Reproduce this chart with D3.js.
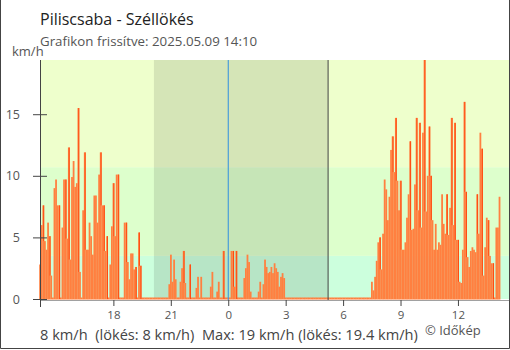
<!DOCTYPE html>
<html>
<head>
<meta charset="utf-8">
<script src="https://cdn.jsdelivr.net/npm/d3@7"></script>
<style>
  html, body { margin: 0; padding: 0; background: #fff; }
  svg { display: block; font-family: "Open Sans", "Noto Sans", sans-serif; }
</style>
</head>
<body>
<svg id="chart" width="510" height="350"></svg>
<script>
// Station and labels
const station = "Piliscsaba";
const titleText = station + " - Széllökés";
const updatedText = "Grafikon frissítve: 2025.05.09 14:10";
const unitLabel = "km/h";
const summaryText = "8 km/h  (lökés: 8 km/h)  Max: 19 km/h (lökés: 19.4 km/h)";
const creditText = "© Időkép";

// Time window (local time) and 5-minute gust readings from 2025-05-08 14:10
const windowStart = new Date(2025, 4, 8, 14, 10);
const windowEnd = new Date(2025, 4, 9, 14, 40);
const stepMinutes = 5;
const gust = [
  2.8, 6.0, 7.6, 4.7, 4.0, 6.2, 5.1, 1.9, 0, 9.0,
  9.7, 7.6, 7.6, 0, 5.8, 9.7, 9.7, 4.9, 12.3, 3.2,
  9.9, 11.2, 9.1, 9.4, 15.5, 2.2, 0, 7.2, 11.9, 4.0,
  4.0, 6.2, 5.1, 3.6, 8.4, 8.4, 6.2, 10.1, 11.9, 7.6,
  7.6, 3.9, 5.1, 0, 2.8, 5.9, 9.4, 5.1, 10.1, 10.1,
  0, 0, 0, 6.2, 6.2, 3.0, 1.6, 3.7, 3.7, 2.4,
  2.6, 0, 5.4, 2.7, 0, 0, 0, 0, 0, 0,
  0, 0, 0, 0, 0, 0, 0, 0, 0, 0,
  0, 1.2, 3.6, 1.4, 3.2, 1.6, 0, 0, 1.4, 2.5,
  3.9, 1.3, 0, 0, 2.8, 0, 0, 0, 0.9, 1.8,
  0, 1.8, 0, 0, 0, 0, 0, 1.0, 2.2, 0,
  0, 0.6, 1.4, 0, 0, 3.9, 0, 0, 0, 0,
  3.9, 3.9, 1.0, 3.9, 0, 0, 0, 0, 1.7, 2.5,
  3.6, 3.0, 0.6, 0, 0, 0, 0, 0.6, 1.4, 0,
  1.2, 3.2, 2.6, 2.1, 2.2, 2.6, 2.1, 2.9, 2.5, 2.2,
  1.0, 1.8, 2.1, 1.7, 0, 0, 0, 0, 0, 0,
  0, 0, 0, 0, 0, 0, 0, 0, 0, 0,
  0, 0, 0, 0, 0, 0, 0, 0, 0, 0,
  0, 0, 0, 0, 0, 0, 0, 0, 0, 0,
  0, 0, 0, 0, 0, 0, 0, 0, 0, 0,
  0, 0, 0, 0, 0, 0, 0, 0, 1.4, 0.7,
  1.8, 3.1, 4.6, 5.0, 2.4, 5.3, 9.7, 8.9, 6.4, 8.3,
  12.1, 13.2, 10.3, 14.7, 9.6, 7.2, 9.6, 4.0, 4.0, 4.6,
  6.6, 8.5, 12.8, 5.6, 5.7, 9.3, 14.7, 7.2, 14.3, 5.8,
  13.5, 19.4, 7.1, 10.0, 14.0, 10.0, 6.4, 4.0, 6.1, 4.0,
  4.6, 4.4, 8.5, 6.1, 5.3, 8.5, 5.2, 7.4, 14.7, 6.0,
  14.3, 4.8, 4.8, 1.4, 1.3, 4.0, 16.0, 8.7, 3.4, 2.6,
  3.9, 4.2, 4.0, 3.8, 8.5, 5.3, 13.5, 12.2, 1.9, 4.2,
  6.6, 6.4, 3.5, 2.9, 2.9, 0, 5.8, 5.8, 8.3
];

// Axis ticks
const yTicks = [0, 5, 10, 15];
const xTickTimes = [
  new Date(2025, 4, 8, 18), new Date(2025, 4, 8, 21), new Date(2025, 4, 9, 0),
  new Date(2025, 4, 9, 3), new Date(2025, 4, 9, 6), new Date(2025, 4, 9, 9),
  new Date(2025, 4, 9, 12)
];

// Background wind-strength bands (km/h) and darkness period
const bandLimits = [0, 3.5, 10.7, 19.4];
const bandColors = ["#ccffdd", "#ddffcc", "#eeffcc"];
const sunset = new Date(2025, 4, 8, 20, 7);
const sunrise = new Date(2025, 4, 9, 5, 13);
const midnight = new Date(2025, 4, 9, 0, 0);

const svg = d3.select("#chart");
const plotLeft = 40, plotRight = 509, plotTop = 60, plotBottom = 299;

const x = d3.scaleTime().domain([windowStart, windowEnd]).range([plotLeft, plotRight]);
const y = d3.scaleLinear().domain([0, 19.4]).range([plotBottom, plotTop]);

const rows = gust.map((v, i) => ({
  t: new Date(windowStart.getTime() + i * stepMinutes * 60000),
  v: v
}));
const half = stepMinutes * 30000;

// Bands
const bands = svg.append("g");
bandColors.forEach((c, i) => {
  bands.append("rect")
    .attr("x", plotLeft).attr("width", plotRight - plotLeft)
    .attr("y", y(bandLimits[i + 1])).attr("height", y(bandLimits[i]) - y(bandLimits[i + 1]))
    .attr("fill", c);
});

// Night shading
svg.append("rect")
  .attr("x", x(sunset)).attr("width", x(sunrise) - x(sunset))
  .attr("y", plotTop).attr("height", plotBottom - plotTop)
  .attr("fill", "#000").attr("fill-opacity", 0.1);

// Bars
const barG = svg.append("g");
barG.selectAll("rect.bar").data(rows).join("rect")
  .attr("class", "bar")
  .attr("x", d => x(new Date(d.t.getTime() - half)))
  .attr("width", d => x(new Date(d.t.getTime() + half)) - x(new Date(d.t.getTime() - half)) + 0.2)
  .attr("y", d => Math.min(y(d.v), plotBottom - 1.5))
  .attr("height", d => Math.max(plotBottom - y(d.v), 1.5) + 0.5)
  .attr("fill", "#ff8040");

// Darker edge where a reading drops sharply to the next one
const drops = rows
  .map((d, i) => ({ t: d.t, v: d.v, next: i < rows.length - 1 ? rows[i + 1].v : d.v }))
  .filter(d => d.v - d.next > 2.5);
barG.selectAll("rect.edge").data(drops).join("rect")
  .attr("class", "edge")
  .attr("x", d => x(new Date(d.t.getTime() + half)) - 0.8)
  .attr("width", 1)
  .attr("y", d => y(d.v))
  .attr("height", d => y(d.next) - y(d.v))
  .attr("fill", "#ff4a10");

// Midnight and sunrise markers
svg.append("line")
  .attr("x1", x(midnight)).attr("x2", x(midnight))
  .attr("y1", plotTop).attr("y2", plotBottom + 1)
  .attr("stroke", "#2f8fe0").attr("stroke-width", 1);
svg.append("line")
  .attr("x1", x(sunrise)).attr("x2", x(sunrise))
  .attr("y1", plotTop).attr("y2", plotBottom + 1)
  .attr("stroke", "#444").attr("stroke-width", 1);

// Y axis
const yAxis = svg.append("g")
  .attr("transform", `translate(${plotLeft},0)`)
  .call(d3.axisLeft(y).tickValues(yTicks).tickSize(7).tickPadding(13));
yAxis.select(".domain").remove();
yAxis.selectAll(".tick line").attr("x1", -7).attr("x2", 7).attr("stroke", "#444");
yAxis.selectAll(".tick text").attr("fill", "#555").style("font-size", "12.5px")
  .style("font-family", "'Open Sans', sans-serif");
svg.append("line")
  .attr("x1", plotLeft + 0.5).attr("x2", plotLeft + 0.5)
  .attr("y1", plotTop).attr("y2", plotBottom + 8)
  .attr("stroke", "#444");

// X axis
const xAxis = svg.append("g")
  .attr("transform", `translate(0,${plotBottom + 1})`)
  .call(d3.axisBottom(x).tickValues(xTickTimes).tickFormat(d3.timeFormat("%-H")).tickSize(6).tickPadding(5));
xAxis.select(".domain").remove();
xAxis.selectAll(".tick line").attr("stroke", "#444");
xAxis.selectAll(".tick text").attr("fill", "#555").style("font-size", "11.5px")
  .style("font-family", "'Open Sans', sans-serif");
svg.append("line")
  .attr("x1", plotLeft).attr("x2", plotRight)
  .attr("y1", plotBottom + 1.5).attr("y2", plotBottom + 1.5)
  .attr("stroke", "#444").attr("stroke-opacity", 0.5);

// Frame
svg.append("path")
  .attr("d", `M0.5,0 V348.5 H509.5 V0`)
  .attr("fill", "none").attr("stroke", "#444");

// Texts
svg.append("text").attr("x", 40).attr("y", 25)
  .attr("fill", "#222").style("font-size", "16px").text(titleText);
svg.append("text").attr("x", 40).attr("y", 46)
  .attr("fill", "#555").style("font-size", "13.3px").text(updatedText);
svg.append("text").attr("x", 12).attr("y", 56)
  .attr("fill", "#555").style("font-size", "13px").text(unitLabel);
svg.append("text").attr("x", 40).attr("y", 340)
  .attr("fill", "#444").style("font-size", "14.6px").style("white-space", "pre")
  .attr("xml:space", "preserve").text(summaryText);
svg.append("text").attr("x", 425).attr("y", 335)
  .attr("fill", "#555").style("font-size", "13px").text(creditText);
</script>
</body>
</html>
